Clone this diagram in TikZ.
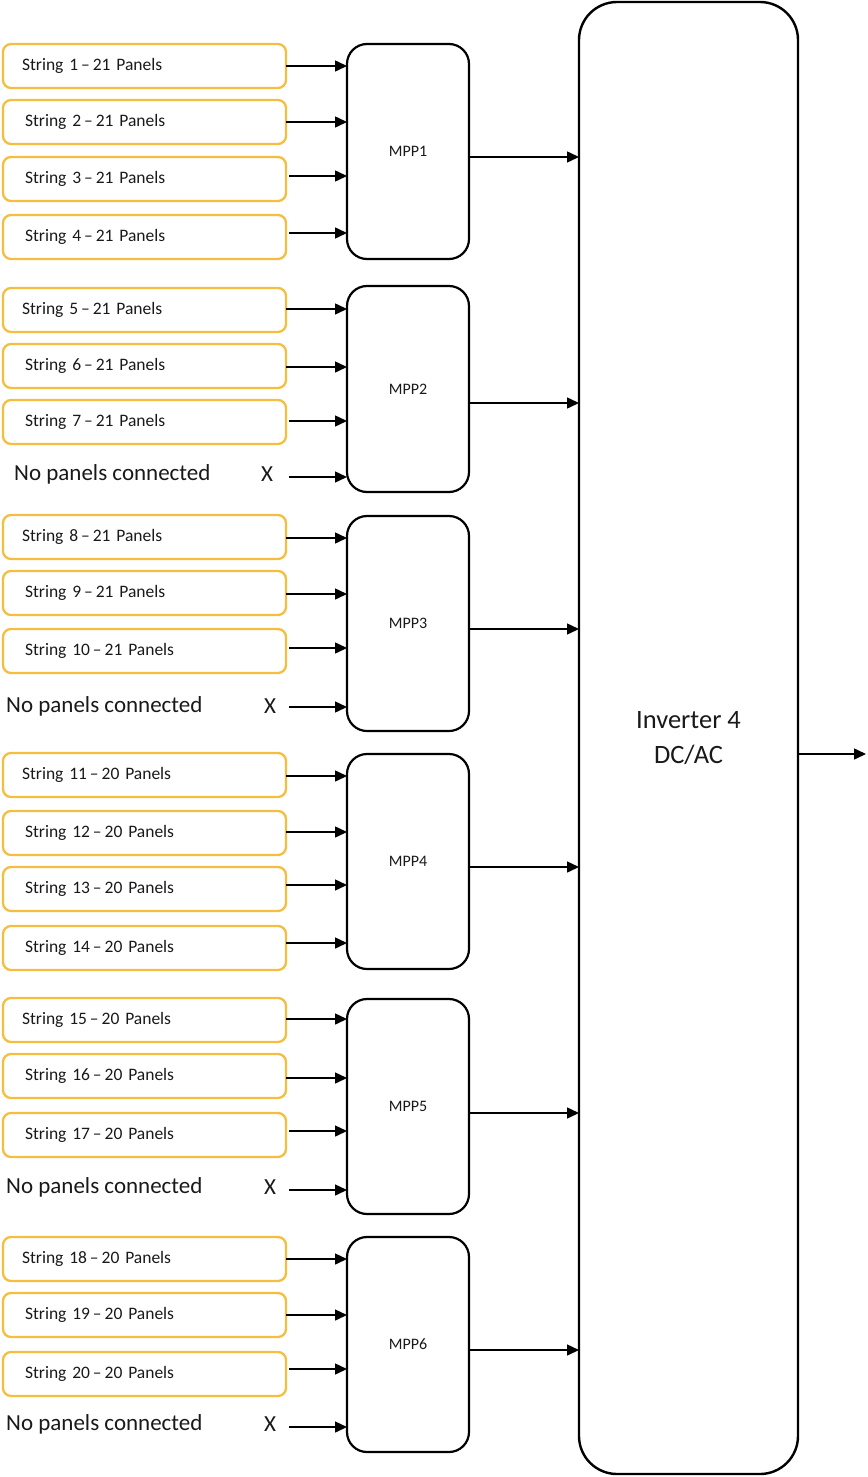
\documentclass[tikz,border=0pt]{standalone}
\usepackage{fontspec}
\setmainfont{Carlito}
\usetikzlibrary{arrows.meta,calc}
\definecolor{strorange}{RGB}{246,190,62}
\definecolor{txt}{RGB}{25,25,25}
\begin{document}
\begin{tikzpicture}[x=1pt,y=-1pt,
  strbox/.style={draw=strorange, line width=2.3pt, rounded corners=8pt, minimum height=44pt,
    align=left, anchor=north west, outer sep=0pt, inner ysep=0pt, text=txt,
    font=\fontsize{17.5}{20}\selectfont},
  mppbox/.style={draw, line width=2.2pt, rounded corners=20pt, minimum width=122pt,
    anchor=north west, outer sep=0pt, text=txt, font=\fontsize{16}{19}\selectfont},
  invbox/.style={draw, line width=2.4pt, rounded corners=38pt, minimum width=219pt, minimum height=1472pt,
    anchor=north west, outer sep=0pt, align=center, text=txt, font=\fontsize{26.5}{35}\selectfont},
  nptext/.style={anchor=west, inner sep=0pt, text=txt, font=\fontsize{23}{26}\selectfont},
  xmark/.style={inner sep=0pt, text=txt, font=\fontsize{23}{26}\selectfont},
  arr/.style={line width=1.5pt, -{Triangle[length=12pt,width=11pt]}}]
\useasboundingbox (0,0) rectangle (867,1477);

% inverter
\node[invbox] (inv) at (579,2) {Inverter 4\\DC/AC};

% MPP boxes
\node[mppbox, minimum height=215pt] (m1) at (347,44) {MPP1};
\node[mppbox, minimum height=206pt] (m2) at (347,286) {MPP2};
\node[mppbox, minimum height=215pt] (m3) at (347,516) {MPP3};
\node[mppbox, minimum height=215pt] (m4) at (347,754) {MPP4};
\node[mppbox, minimum height=215pt] (m5) at (347,999) {MPP5};
\node[mppbox, minimum height=215pt] (m6) at (347,1237) {MPP6};

% MPP -> inverter
\foreach \m/\dy in {1/5.5,2/14,3/5.5,4/5.5,5/6.5,6/5.5}{
  \coordinate (o\m) at ($(m\m.east)+(0,\dy)$);
  \draw[arr] (o\m) -- (o\m -| inv.west);
}

% inverter output
\coordinate (ia) at ($(inv.east)+(0,16)$);
\coordinate (out) at (866,754);
\draw[arr] (ia) -- (out);

% strings
\foreach \n/\t/\p/\xs/\dx/\ay/\m in {
  1/44/21/19/0/66/1, 2/100/21/22/0/122/1, 3/157/21/22/3/176/1, 4/215/21/22/3/233/1,
  5/288/21/19/0/309/2, 6/344/21/22/0/367/2, 7/400/21/22/3/421/2,
  8/515/21/19/0/538/3, 9/571/21/22/0/594/3, 10/629/21/22/3/648/3,
  11/753/20/19/0/776/4, 12/811/20/22/0/832/4, 13/867/20/22/0/885/4, 14/926/20/22/0/943/4,
  15/998/20/19/0/1019/5, 16/1054/20/22/0/1078/5, 17/1113/20/22/3/1131/5,
  18/1237/20/19/0/1259/6, 19/1293/20/22/0/1315/6, 20/1352/20/22/3/1369/6}{
  \pgfmathsetmacro\tw{283-2*\xs}
  \node[strbox, inner xsep=\xs pt, text width=\tw pt] (s\n) at (3,\t) {String \n\hspace{0.17em}–\hspace{0.17em}\p{} Panels};
  \coordinate (a\n) at ($(s\n.east)+(\dx,\ay-\t-22)$);
  \draw[arr] (a\n) -- (a\n -| m\m.west);
}

% no panels connected
\foreach \g/\nx/\ny/\xx/\ay/\m in {2/14/474/267/477/2, 3/6/706/270/707/3, 5/6/1187/270/1190/5, 6/6/1424/270/1427/6}{
  \node[nptext] (np\g) at (\nx,\ny) {No panels connected};
  \node[xmark] (x\g) at (\xx,\ny) {X};
  \coordinate (b\g) at ($(x\g.center)+(289-\xx,\ay-\ny)$);
  \draw[arr] (b\g) -- (b\g -| m\m.west);
}
\end{tikzpicture}
\end{document}
